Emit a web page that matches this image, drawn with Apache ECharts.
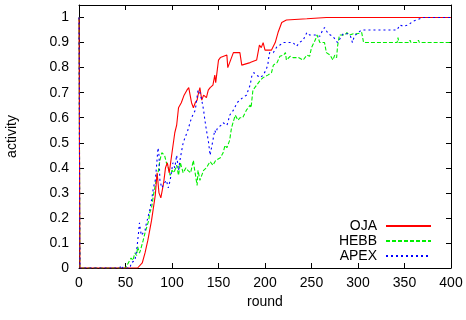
<!DOCTYPE html>
<html>
<head>
<meta charset="utf-8">
<script src="https://cdn.jsdelivr.net/npm/echarts@6/dist/echarts.min.js"></script>
<style>html,body{margin:0;padding:0;background:#fff}#c{width:466px;height:320px}</style>
</head>
<body>
<div id="c"></div>
<script>
var xTicks = [0, 50, 100, 150, 200, 250, 300, 350, 400];
var yTicks = [0, 0.1, 0.2, 0.3, 0.4, 0.5, 0.6, 0.7, 0.8, 0.9, 1];
var seriesNames = ['OJA', 'HEBB', 'APEX'];

var ojaRounds = [0,1,63,68,71,74,78,82,84,86,88,91,93,95,97,100,103,105,107,110,113,116,118,121,123,125,127,128,130,132,134,137,139,141,144,146,147,150,152,159,160,162,164,166,173,175,184,191,194,196,198,200,207,211,214,218,223,245,266,400];
var ojaValues = [1,0,0,0.02,0.06,0.11,0.19,0.29,0.38,0.30,0.28,0.34,0.40,0.42,0.38,0.46,0.54,0.57,0.64,0.66,0.69,0.71,0.72,0.66,0.64,0.66,0.67,0.69,0.72,0.67,0.69,0.68,0.71,0.72,0.73,0.77,0.74,0.83,0.84,0.85,0.80,0.82,0.82,0.86,0.86,0.81,0.82,0.83,0.89,0.88,0.90,0.87,0.87,0.90,0.94,0.98,0.99,0.995,1.0,1.0];

var hebbRounds = [0,1,50,53,56,58,60,62,63,65,66,69,71,73,75,76,78,80,82,84,85,87,89,92,94,96,98,100,102,105,107,109,112,115,117,120,123,124,127,128,130,134,137,141,144,147,152,155,157,159,162,164,168,171,173,176,180,184,185,187,189,195,198,203,207,209,213,216,220,222,223,227,230,232,236,241,245,248,250,254,256,259,264,266,270,273,275,277,278,280,286,288,291,295,299,304,306,342,343,344,355,356,357,364,365,366,400];
var hebbValues = [1,0,0,0.02,0.04,0.03,0.06,0.05,0.085,0.06,0.07,0.11,0.14,0.165,0.19,0.22,0.24,0.29,0.33,0.37,0.38,0.43,0.46,0.45,0.42,0.40,0.37,0.39,0.38,0.41,0.37,0.42,0.38,0.40,0.39,0.38,0.43,0.40,0.33,0.39,0.35,0.39,0.40,0.425,0.41,0.43,0.44,0.46,0.49,0.48,0.51,0.56,0.61,0.59,0.60,0.60,0.63,0.65,0.64,0.71,0.72,0.75,0.76,0.77,0.78,0.81,0.82,0.845,0.85,0.86,0.83,0.845,0.84,0.845,0.84,0.83,0.85,0.845,0.88,0.91,0.93,0.90,0.90,0.86,0.85,0.83,0.85,0.84,0.885,0.93,0.93,0.94,0.93,0.935,0.935,0.94,0.90,0.90,0.92,0.90,0.90,0.91,0.90,0.90,0.91,0.90,0.90];

var apexRounds = [0,1,44,45,47,55,56,60,62,64,65,67,69,71,72,74,76,78,80,82,83,85,86,87,89,92,94,96,98,101,103,105,107,109,112,116,117,119,121,125,128,130,132,134,135,137,139,141,143,144,146,147,149,153,155,159,160,162,166,170,173,176,180,184,186,188,191,195,198,201,203,204,205,209,213,216,220,230,234,237,241,245,248,254,259,262,264,268,273,278,280,284,289,292,294,296,300,304,342,345,349,354,359,363,370,400];
var apexValues = [1,0,0,0.01,0,0,0.02,0.03,0.07,0.14,0.18,0.13,0.14,0.15,0.17,0.20,0.23,0.27,0.32,0.35,0.39,0.48,0.45,0.35,0.32,0.34,0.35,0.32,0.35,0.42,0.40,0.45,0.39,0.44,0.50,0.54,0.55,0.55,0.60,0.63,0.71,0.70,0.67,0.63,0.60,0.55,0.51,0.45,0.49,0.51,0.55,0.54,0.56,0.57,0.58,0.57,0.58,0.61,0.63,0.66,0.67,0.68,0.69,0.73,0.77,0.78,0.77,0.76,0.77,0.79,0.81,0.84,0.86,0.86,0.885,0.89,0.90,0.90,0.885,0.90,0.91,0.94,0.93,0.93,0.925,0.95,0.96,0.935,0.925,0.90,0.90,0.935,0.935,0.925,0.90,0.925,0.94,0.95,0.95,0.97,0.965,0.97,0.985,0.99,1.0,1.0];

function pairs(xs, ys) { return xs.map(function (x, i) { return [x, ys[i]]; }); }

var FONT = 'Liberation Sans, Arial, Helvetica, sans-serif';
var FS = 14;
var chart = echarts.init(document.getElementById('c'), null, {renderer: 'canvas'});
var lineColor = '#000';
function xAx(pos, show) {
  return {
    type: 'value', position: pos, min: xTicks[0], max: xTicks[xTicks.length - 1], interval: 50,
    axisLine: {show: true, onZero: false, lineStyle: {color: lineColor, width: 1}},
    axisTick: {show: true, inside: true, length: 5, lineStyle: {color: lineColor}},
    axisLabel: {show: show, color: '#000', fontSize: FS, fontFamily: FONT, margin: 8},
    splitLine: {show: false},
    name: show ? 'round' : '', nameLocation: 'middle', nameGap: 25,
    nameTextStyle: {color: '#000', fontSize: FS, fontFamily: FONT}
  };
}
function yAx(pos, show) {
  return {
    type: 'value', position: pos, min: yTicks[0], max: 1.05, interval: 0.1,
    axisLine: {show: true, onZero: false, lineStyle: {color: lineColor, width: 1}},
    axisTick: {show: true, inside: true, length: 5, lineStyle: {color: lineColor}},
    axisLabel: {show: show, showMaxLabel: false, color: '#000', fontSize: FS, fontFamily: FONT, margin: 10,
      formatter: function (v) { var r = Math.round(v * 10) / 10; return yTicks.indexOf(r) >= 0 && Math.abs(v - r) < 1e-6 ? String(r) : ''; }},
    splitLine: {show: false},
    name: show ? 'activity' : '', nameLocation: 'middle', nameGap: 60,
    nameTextStyle: {color: '#000', fontSize: FS, fontFamily: FONT}
  };
}
function legendFor(name, top) {
  return {
    data: [name], right: 34, top: top, align: 'right', orient: 'horizontal',
    itemWidth: 45, itemHeight: 12, itemGap: 0,
    itemStyle: {opacity: 0},
    textStyle: {color: '#000', fontSize: FS, fontFamily: FONT, padding: [0, 4, 0, 0]},
    padding: 0, selectedMode: false
  };
}
var option = {
  animation: false,
  backgroundColor: '#fff',
  grid: {left: 79, right: 15, top: 5, bottom: 52, containLabel: false, outerBoundsMode: 'none'},
  xAxis: [xAx('bottom', true), xAx('top', false)],
  yAxis: [yAx('left', true), yAx('right', false)],
  legend: [legendFor('OJA', 219), legendFor('HEBB', 234), legendFor('APEX', 249)],
  series: [
    {name: seriesNames[0], type: 'line', data: pairs(ojaRounds, ojaValues), symbol: 'none', showSymbol: false,
      lineStyle: {color: '#ff0000', width: 1.1, type: 'solid'}, itemStyle: {color: '#ff0000'}, z: 4},
    {name: seriesNames[1], type: 'line', data: pairs(hebbRounds, hebbValues), symbol: 'none', showSymbol: false,
      lineStyle: {color: '#00ee00', width: 1.1, type: [4, 2]}, itemStyle: {color: '#00ee00'}, z: 3},
    {name: seriesNames[2], type: 'line', data: pairs(apexRounds, apexValues), symbol: 'none', showSymbol: false,
      lineStyle: {color: '#0000ff', width: 1.1, type: [2, 3]}, itemStyle: {color: '#0000ff'}, z: 5}
  ]
};
chart.setOption(option);
</script>
</body>
</html>
